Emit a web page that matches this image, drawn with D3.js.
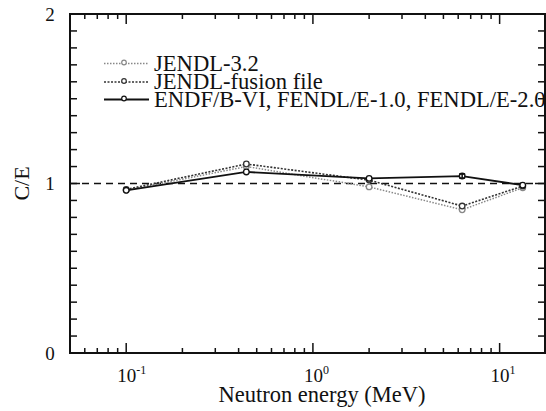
<!DOCTYPE html>
<html><head><meta charset="utf-8">
<script src="https://cdn.jsdelivr.net/npm/d3@7"></script>
<style>body{margin:0;background:#fff}svg{display:block}text{font-family:"Liberation Serif","Times New Roman",serif;fill:#111}</style>
</head><body><svg id="c" width="546" height="411"></svg>
<script>
const energies = [0.1, 0.44, 2.0, 6.3, 13.3];
const jendl32 = [0.96, 1.10, 0.98, 0.845, 0.975];
const jendlFusion = [0.965, 1.115, 1.02, 0.867, 0.985];
const endf = [0.96, 1.068, 1.03, 1.044, 0.99];
const endfErr = [0, 0, 0, 0.012, 0];
const seriesNames = ["JENDL-3.2", "JENDL-fusion file", "ENDF/B-VI, FENDL/E-1.0, FENDL/E-2.0"];
const xDomain = [0.05, 17.5];
const yDomain = [0, 2];
const yTickLabels = [0, 1, 2];
const xMajor = [0.1, 1, 10];
const xTickExps = ["-1", "0", "1"];

const svg = d3.select("#c");
const L = 70, R = 545, T = 14, B = 353;
const x = d3.scaleLog().domain(xDomain).range([L, R]);
const y = d3.scaleLinear().domain(yDomain).range([B, T]);

// reference line at 1
svg.append("line").attr("x1", L).attr("x2", R).attr("y1", y(1)).attr("y2", y(1))
  .attr("stroke", "#111").attr("stroke-width", 1.6).attr("stroke-dasharray", "7,5");

// x ticks
const xt = x.ticks();
const isMajor = v => xMajor.some(m => Math.abs(m - v) / m < 1e-6);
xt.forEach(v => {
  const len = isMajor(v) ? 10 : 5;
  svg.append("line").attr("x1", x(v)).attr("x2", x(v)).attr("y1", B).attr("y2", B - len).attr("stroke", "#111").attr("stroke-width", 1.5);
  svg.append("line").attr("x1", x(v)).attr("x2", x(v)).attr("y1", T).attr("y2", T + len).attr("stroke", "#111").attr("stroke-width", 1.5);
});
// y ticks
d3.range(0, 21).map(i => i / 10).forEach(v => {
  const len = (Math.abs(v - Math.round(v)) < 1e-9) ? 10 : 7;
  svg.append("line").attr("x1", L).attr("x2", L + len).attr("y1", y(v)).attr("y2", y(v)).attr("stroke", "#111").attr("stroke-width", 1.5);
  svg.append("line").attr("x1", R).attr("x2", R - len).attr("y1", y(v)).attr("y2", y(v)).attr("stroke", "#111").attr("stroke-width", 1.5);
});
// frame
svg.append("rect").attr("x", L).attr("y", T).attr("width", R - L).attr("height", B - T)
  .attr("fill", "none").attr("stroke", "#111").attr("stroke-width", 2);

// y tick labels
yTickLabels.forEach(v => {
  svg.append("text").attr("x", 50).attr("y", y(v) + 6.5).attr("text-anchor", "middle").attr("font-size", 19).text(v);
});
// x tick labels
xMajor.forEach((v, i) => {
  const t = svg.append("text").attr("x", x(v) - 9).attr("y", 382).attr("font-size", 19);
  t.append("tspan").text("10");
  t.append("tspan").attr("font-size", 12).attr("dy", -8).text(xTickExps[i]);
});
svg.append("text").attr("x", 322).attr("y", 402).attr("text-anchor", "middle").attr("font-size", 22.5).text("Neutron energy (MeV)");
svg.append("text").attr("transform", `translate(29,${y(1)}) rotate(-90)`).attr("text-anchor", "middle").attr("font-size", 22).text("C/E");

const styles = [
  {vals: jendl32, color: "#888", dash: "1.5,1.5", w: 1.5},
  {vals: jendlFusion, color: "#333", dash: "2,1.5", w: 1.6},
  {vals: endf, color: "#111", dash: null, w: 1.8}
];
const line = d3.line().x(d => x(d[0])).y(d => y(d[1]));
styles.forEach(s => {
  const pts = energies.map((e, i) => [e, s.vals[i]]);
  svg.append("path").attr("d", line(pts)).attr("fill", "none").attr("stroke", s.color)
    .attr("stroke-width", s.w).attr("stroke-dasharray", s.dash);
  svg.selectAll(null).data(pts).enter().append("circle")
    .attr("cx", d => x(d[0])).attr("cy", d => y(d[1])).attr("r", 2.8)
    .attr("fill", "#fff").attr("stroke", s.color).attr("stroke-width", 1.3);
});
// error bars on ENDF
energies.forEach((e, i) => {
  if (endfErr[i] > 0) {
    const cx = x(e);
    svg.append("line").attr("x1", cx).attr("x2", cx).attr("y1", y(endf[i] - endfErr[i])).attr("y2", y(endf[i] + endfErr[i])).attr("stroke", "#111").attr("stroke-width", 1.5);
    [endf[i] - endfErr[i], endf[i] + endfErr[i]].forEach(v => {
      svg.append("line").attr("x1", cx - 3).attr("x2", cx + 3).attr("y1", y(v)).attr("y2", y(v)).attr("stroke", "#111").attr("stroke-width", 1.5);
    });
  }
});

// legend
const legY = [63.5, 82, 99.5];
styles.forEach((s, i) => {
  svg.append("line").attr("x1", 104).attr("x2", 149).attr("y1", legY[i]).attr("y2", legY[i])
    .attr("stroke", s.color).attr("stroke-width", s.w).attr("stroke-dasharray", s.dash);
  svg.append("circle").attr("cx", 124).attr("cy", legY[i] - 1).attr("r", 2.3)
    .attr("fill", "#fff").attr("stroke", s.color).attr("stroke-width", 1.2);
  svg.append("text").attr("x", 154).attr("y", legY[i] + 7).attr("font-size", 22.6).text(seriesNames[i]);
});
</script></body></html>
